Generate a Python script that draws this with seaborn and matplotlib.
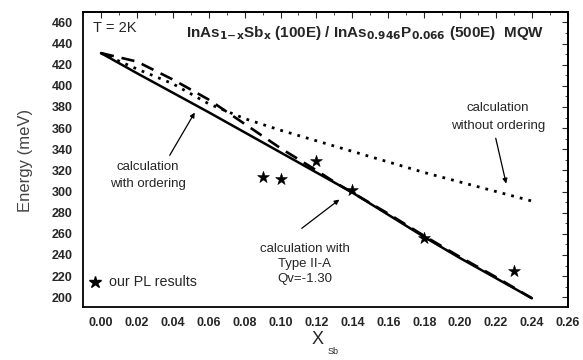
import numpy as np
import pandas as pd
import seaborn as sns
import matplotlib
matplotlib.use("Agg")
import matplotlib.pyplot as plt
from matplotlib.ticker import MultipleLocator, FormatStrFormatter

# ---- data ----
x_grid = [0.00, 0.02, 0.04, 0.06, 0.08, 0.10, 0.12, 0.14, 0.16, 0.18, 0.20, 0.22, 0.24]
typeII_A = [431, 412, 393.5, 375, 356, 337, 318, 299, 278, 257, 237, 218, 199]
with_order_x = [0.00, 0.02, 0.04, 0.06, 0.08, 0.10, 0.12, 0.13, 0.14, 0.16, 0.18, 0.20, 0.22, 0.24]
with_order = [431, 423, 406, 387, 364, 341, 320, 309, 299, 279, 258, 238, 219, 199]
without_order = [431, 416, 402, 383, 369, 358, 348, 338, 328, 318, 309, 300, 291]
pl_x = [0.09, 0.10, 0.12, 0.14, 0.18, 0.23]
pl_y = [314, 312, 329, 301, 256, 225]
x_ticks = [0.00, 0.02, 0.04, 0.06, 0.08, 0.10, 0.12, 0.14, 0.16, 0.18, 0.20, 0.22, 0.24, 0.26]
y_ticks = list(range(200, 461, 20))

sns.set_style("white")
plt.rcParams['font.family'] = ['Liberation Sans', 'DejaVu Sans']

fig = plt.figure(figsize=(5.83, 3.60), dpi=100)
ax = fig.add_axes([0.1424, 0.148, 0.974 - 0.1424, 0.967 - 0.148])

df_s = pd.DataFrame({"x": x_grid, "y": typeII_A})
df_d = pd.DataFrame({"x": with_order_x, "y": with_order})
df_o = pd.DataFrame({"x": x_grid, "y": without_order})

sns.lineplot(data=df_o, x="x", y="y", ax=ax, color="black", lw=2.0,
             estimator=None, sort=False)
ax.lines[-1].set_linestyle((0, (1, 2.2)))
sns.lineplot(data=df_d, x="x", y="y", ax=ax, color="black", lw=1.9,
             estimator=None, sort=False)
ax.lines[-1].set_linestyle((0, (5, 3)))
sns.lineplot(data=df_s, x="x", y="y", ax=ax, color="black", lw=1.8,
             estimator=None, sort=False)

sns.scatterplot(x=pl_x, y=pl_y, ax=ax, marker="*", s=80, color="black",
                edgecolor="black", linewidth=0.4, zorder=5)

ax.set_xlim(-0.01, 0.26)
ax.set_ylim(191, 470)
ax.set_xticks(x_ticks)
ax.set_yticks(y_ticks)
ax.xaxis.set_major_formatter(FormatStrFormatter("%.2f"))
ax.xaxis.set_minor_locator(MultipleLocator(0.01))
ax.yaxis.set_minor_locator(MultipleLocator(10))
ax.tick_params(axis="both", which="major", labelsize=9, length=4, width=1.0,
               color="black", direction="out")
ax.tick_params(axis="both", which="minor", length=2, width=0.8, direction="out")
for lab in ax.get_xticklabels() + ax.get_yticklabels():
    lab.set_fontweight("bold")

# top/right inward ticks
secx = ax.secondary_xaxis("top")
secx.set_xticks(x_ticks)
secx.xaxis.set_minor_locator(MultipleLocator(0.01))
secx.tick_params(which="major", direction="in", length=4, labeltop=False)
secx.tick_params(which="minor", direction="in", length=2, labeltop=False)
secy = ax.secondary_yaxis("right")
secy.set_yticks(y_ticks)
secy.yaxis.set_minor_locator(MultipleLocator(10))
secy.tick_params(which="major", direction="in", length=4, labelright=False)
secy.tick_params(which="minor", direction="in", length=2, labelright=False)
for sp in list(ax.spines.values()) + [secx.spines["top"], secy.spines["right"]]:
    sp.set_linewidth(1.3)
    sp.set_color("black")

ax.set_xlabel("")
ax.set_ylabel("")
fig.text(0.043, 0.555, "Energy (meV)", rotation=90, ha="center", va="center",
         fontsize=12, color="#444444")
fig.text(318 / 583, 1 - 339 / 360, "X", ha="center", va="center", fontsize=13)
fig.text(333 / 583, 1 - 351 / 360, "Sb", ha="center", va="center", fontsize=6.5)

ax.text(-0.0045, 455, "T = 2K", fontsize=10.5, ha="left", va="center")
ax.text(0.147, 450,
        r"InAs$_{\mathbf{1\!-\!x}}$Sb$_{\mathbf{x}}$ (100E) / InAs$_{\mathbf{0.946}}$P$_{\mathbf{0.066}}$ (500E)  MQW",
        fontsize=11, fontweight="bold", ha="center", va="center")

fs = 9.5
ax.text(0.026, 315, "calculation\nwith ordering", fontsize=fs, ha="center", va="center",
        linespacing=1.5)
ax.annotate("", xy=(0.053, 377), xytext=(0.0375, 332),
            arrowprops=dict(arrowstyle="-|>", color="black", lw=0.9, mutation_scale=7))

ax.text(0.221, 370.5, "calculation\nwithout ordering", fontsize=fs, ha="center", va="center",
        linespacing=1.6)
ax.annotate("", xy=(0.226, 305), xytext=(0.2195, 353),
            arrowprops=dict(arrowstyle="-|>", color="black", lw=0.9, mutation_scale=7))

ax.text(0.1135, 231.5, "calculation with\nType II-A\nQv=-1.30", fontsize=fs, ha="center",
        va="center", linespacing=1.35)
ax.annotate("", xy=(0.134, 294), xytext=(0.1106, 263.6),
            arrowprops=dict(arrowstyle="-|>", color="black", lw=0.9, mutation_scale=7))

ax.plot([-0.0033], [214.5], marker="*", color="black", markersize=9, linestyle="none")
ax.text(0.0042, 214.5, "our PL results", fontsize=10.3, ha="left", va="center")

fig.savefig("out.png", dpi=100)
